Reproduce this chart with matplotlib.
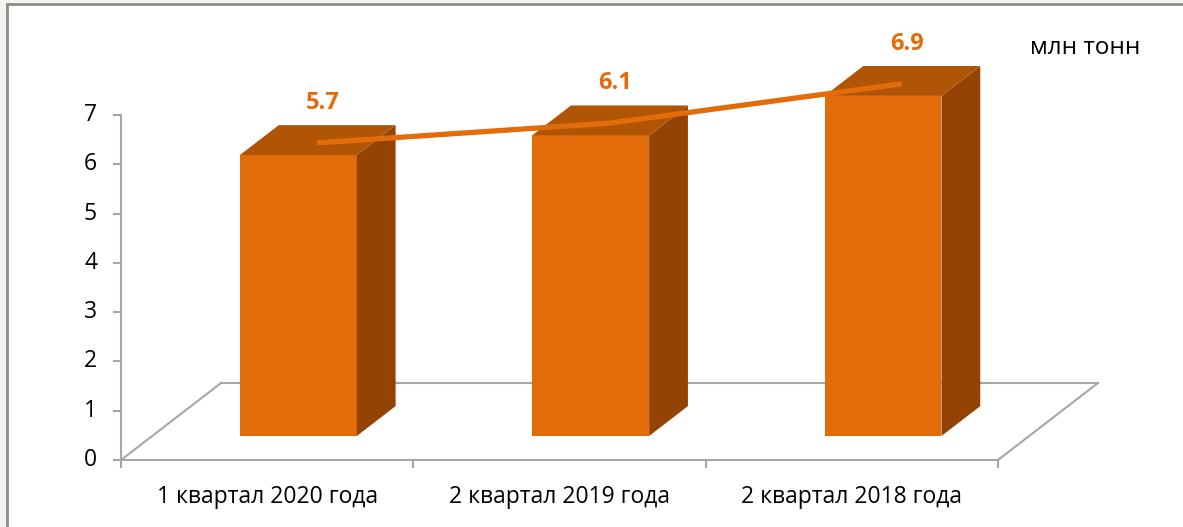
import matplotlib.pyplot as plt
from matplotlib.patches import Polygon, Rectangle

categories = ["1 квартал 2020 года", "2 квартал 2019 года", "2 квартал 2018 года"]
values = [5.7, 6.1, 6.9]
labels = ["5.7", "6.1", "6.9"]
yticks = [0, 1, 2, 3, 4, 5, 6, 7]
unit = "млн тонн"

FRONT = "#e36c0a"
TOP = "#b05405"
SIDE = "#934405"
GRID = "#a6a6a6"

# pseudo-3d depth vector of the floor (data units)
DX, DY = 0.342, 1.562
F0, F1 = 0.312, 0.70      # bar front / back depth fractions
FL = 0.47                 # depth of the line
BW = 0.40                 # bar width

plt.rcParams['font.family'] = ['Open Sans', 'DejaVu Sans']

fig = plt.figure(figsize=(11.83, 5.27), dpi=100)
fig.patch.set_facecolor("#f4f3ee")
fig.add_artist(Rectangle((7 / 1183, -0.1), 1.2, 1 - 4 / 527 + 0.1,
                         transform=fig.transFigure, facecolor="white",
                         edgecolor="#8c8c8c", linewidth=2, zorder=-5))

ax = fig.add_axes([0, 0, 1, 1])
ax.set_zorder(2)
ax.set_xlim(-0.414, 3.633)
ax.set_ylim(-1.359, 9.333)
ax.axis("off")

n = len(categories)

# floor outline
ax.plot([0, n], [0, 0], color=GRID, lw=1.5)
ax.plot([DX, n + DX], [DY, DY], color=GRID, lw=1.5)
ax.plot([0, DX], [0, DY], color=GRID, lw=1.5)
ax.plot([n, n + DX], [0, DY], color=GRID, lw=1.5)

# value axis
ax.plot([0, 0], [0, yticks[-1]], color=GRID, lw=1.5)
for t in yticks:
    ax.plot([-0.024, 0], [t, t], color=GRID, lw=1.5)
    ax.text(-0.082, t, str(t), ha="right", va="center", fontsize=16.5, color="black")

# category axis
for i in range(n + 1):
    ax.plot([i, i], [0, -0.15], color=GRID, lw=1.5)
for i, c in enumerate(categories):
    ax.text(i + 0.5, -0.75, c, ha="center", va="center", fontsize=16.5, color="black")

# bars
for i, v in enumerate(values):
    x0 = i + 0.5 - BW / 2 + F0 * DX
    x1 = x0 + BW
    y0 = F0 * DY
    y1 = y0 + v
    ddx = (F1 - F0) * DX
    ddy = (F1 - F0) * DY
    ax.add_patch(Polygon([(x0, y0), (x1, y0), (x1, y1), (x0, y1)],
                         facecolor=FRONT, edgecolor="none", zorder=3))
    ax.add_patch(Polygon([(x1, y0), (x1 + ddx, y0 + ddy), (x1 + ddx, y1 + ddy), (x1, y1)],
                         facecolor=SIDE, edgecolor="none", zorder=3))
    ax.add_patch(Polygon([(x0, y1), (x1, y1), (x1 + ddx, y1 + ddy), (x0 + ddx, y1 + ddy)],
                         facecolor=TOP, edgecolor="none", zorder=3))

# line
lx = [i + 0.5 + 0.5 * DX for i in range(n)]
ly = [v + FL * DY for v in values]
ax.plot(lx, ly, color=FRONT, lw=3.8, zorder=4, solid_capstyle="butt")

for i, (v, s) in enumerate(zip(values, labels)):
    ax.text(i + 0.69, v + 1.55, s, ha="center", va="center", fontsize=17,
            fontweight="bold", color=FRONT, zorder=5)

ax.text(3.298, 8.36, unit, ha="center", va="center", fontsize=17.5, color="black")

fig.savefig("out.png", dpi=100)
